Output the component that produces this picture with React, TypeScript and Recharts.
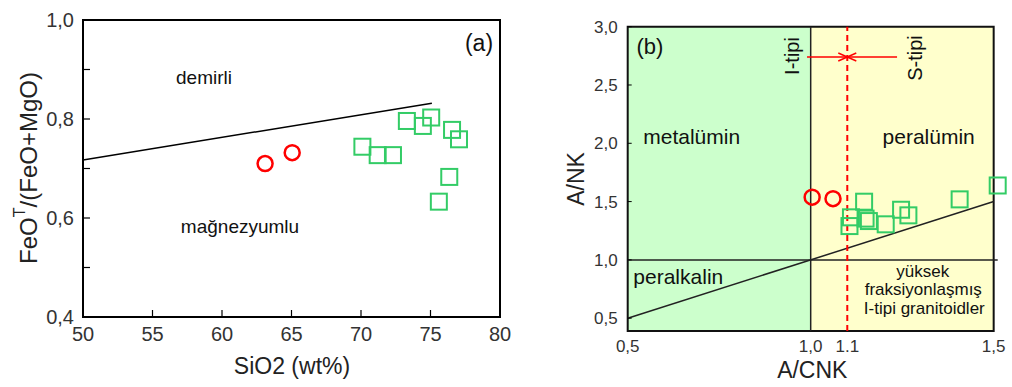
import { ScatterChart, Scatter, XAxis, YAxis, ReferenceLine, ReferenceArea } from 'recharts';

// (a) FeOT/(FeO+MgO) vs SiO2
const aCircles = [
    { x: 63.1, y: 0.71 },
    { x: 65.05, y: 0.732 },
];
const aSquares = [
    { x: 70.1, y: 0.744 },
    { x: 71.2, y: 0.727 },
    { x: 72.3, y: 0.727 },
    { x: 73.3, y: 0.796 },
    { x: 74.45, y: 0.786 },
    { x: 75.05, y: 0.803 },
    { x: 76.55, y: 0.778 },
    { x: 77.05, y: 0.759 },
    { x: 76.35, y: 0.683 },
    { x: 75.6, y: 0.633 },
];
const aBoundary = [
    { x: 50, y: 0.717 },
    { x: 75.1, y: 0.832 },
];
const aXTicks = [50, 55, 60, 65, 70, 75, 80];
const aYTicks = [0.4, 0.5, 0.6, 0.7, 0.8, 0.9, 1.0];
const aYLabelled = [0.4, 0.6, 0.8, 1.0];

// (b) A/NK vs A/CNK
const bCircles = [
    { x: 1.004, y: 1.538 },
    { x: 1.061, y: 1.525 },
];
const bSquares = [
    { x: 1.146, y: 1.499 },
    { x: 1.11, y: 1.365 },
    { x: 1.106, y: 1.29 },
    { x: 1.15, y: 1.354 },
    { x: 1.159, y: 1.333 },
    { x: 1.205, y: 1.305 },
    { x: 1.247, y: 1.43 },
    { x: 1.267, y: 1.382 },
    { x: 1.407, y: 1.519 },
    { x: 1.511, y: 1.638 },
];
const bDiagonal = [
    { x: 0.5, y: 0.5 },
    { x: 1.5, y: 1.5 },
];
const bIS = [
    { x: 0.99, y: 2.74 },
    { x: 1.236, y: 2.74 },
];
const bISMark = [{ x: 1.1, y: 2.74 }];
const bXTicks = [0.5, 1.0, 1.1, 1.5];
const bXTickLabels = ['0,5', '1,0', '1.1', '1,5'];
const bYTicks = [0.5, 1.0, 1.5, 2.0, 2.5, 3.0];

const FONT = '"Liberation Sans", Arial, sans-serif';
const GREEN = '#33cc66';
const RED = '#ff0000';

const comma = (v: number) => v.toFixed(1).replace('.', ',');

const Square = (props: any) => {
    const { cx, cy } = props;
    if (cx == null || cy == null) return null;
    return <rect x={cx - 8} y={cy - 8} width={16} height={16} fill="none" stroke={GREEN} strokeWidth={2} />;
};

const Ring = (props: any) => {
    const { cx, cy } = props;
    if (cx == null || cy == null) return null;
    return <circle cx={cx} cy={cy} r={7.5} fill="none" stroke={RED} strokeWidth={2.5} />;
};

const Cross = (props: any) => {
    const { cx, cy } = props;
    if (cx == null || cy == null) return null;
    return (
        <g stroke={RED} strokeWidth={1.5}>
            <line x1={cx - 9} y1={cy - 4} x2={cx + 9} y2={cy + 4} />
            <line x1={cx - 9} y1={cy + 4} x2={cx + 9} y2={cy - 4} />
        </g>
    );
};

function PanelA() {
    return (
        <ScatterChart width={540} height={387} margin={{ top: 20, right: 40, bottom: 40, left: 23 }}>
            <XAxis
                type="number"
                dataKey="x"
                domain={[50, 80]}
                ticks={aXTicks}
                tickSize={-7}
                tickMargin={17}
                axisLine={false}
                tickLine={{ stroke: '#000', strokeWidth: 1.2 }}
                tick={{ fill: '#333', fontSize: 20, fontFamily: FONT }}
                height={30}
            />
            <YAxis
                type="number"
                dataKey="y"
                domain={[0.4, 1.0]}
                ticks={aYTicks}
                tickFormatter={(v: number) => (aYLabelled.some((t) => Math.abs(t - v) < 1e-6) ? comma(v) : '')}
                tickSize={-7}
                tickMargin={16}
                axisLine={false}
                tickLine={{ stroke: '#000', strokeWidth: 1.2 }}
                tick={{ fill: '#333', fontSize: 20, fontFamily: FONT }}
                width={60}
            />
            <ReferenceArea x1={50} x2={80} y1={0.4} y2={1.0} fill="none" stroke="#000" strokeWidth={2} />
            <ReferenceLine segment={aBoundary} stroke="#000" strokeWidth={1.5} />
            <Scatter data={aCircles} shape={Ring} isAnimationActive={false} />
            <Scatter data={aSquares} shape={Square} isAnimationActive={false} />
            <text x={204} y={77} textAnchor="middle" dominantBaseline="central" fontSize={19} fontFamily={FONT} fill="#111">demirli</text>
            <text x={240} y={226} textAnchor="middle" dominantBaseline="central" fontSize={19} fontFamily={FONT} fill="#111">mağnezyumlu</text>
            <text x={479} y={43} textAnchor="middle" dominantBaseline="central" fontSize={23} fontFamily={FONT} fill="#111">(a)</text>
            <text x={292} y={366} textAnchor="middle" dominantBaseline="central" fontSize={23} fontFamily={FONT} fill="#222">SiO2 (wt%)</text>
            <text
                transform="translate(28,168) rotate(-90)"
                textAnchor="middle"
                dominantBaseline="central"
                fontSize={24}
                fontFamily={FONT}
                fill="#222"
            >
                FeO<tspan dy={-9} fontSize={16}>T</tspan>
                <tspan dy={9}>/(FeO+MgO)</tspan>
            </text>
        </ScatterChart>
    );
}

// region names for panel (b), drawn above the coloured fields
function PanelBText() {
    const t = { textAnchor: 'middle' as const, dominantBaseline: 'central' as const, fontFamily: FONT, fill: '#111' };
    return (
        <svg width={472} height={387} style={{ position: 'absolute', left: 0, top: 0, pointerEvents: 'none' }}>
            <text x={110} y={46.7} fontSize={22} {...t}>(b)</text>
            <text x={151.7} y={136} fontSize={21} {...t}>metalümin</text>
            <text x={388.7} y={136} fontSize={21} {...t}>peralümin</text>
            <text x={138.3} y={276} fontSize={21} {...t}>peralkalin</text>
            <text x={382.7} y={271} fontSize={17} {...t}>yüksek</text>
            <text x={383.3} y={289.5} fontSize={17} {...t}>fraksiyonlaşmış</text>
            <text x={384.3} y={308.5} fontSize={17} {...t}>I-tipi granitoidler</text>
            <text transform="translate(251.7,56) rotate(-90)" fontSize={20} {...t}>I-tipi</text>
            <text transform="translate(375,58) rotate(-90)" fontSize={20} {...t}>S-tipi</text>
        </svg>
    );
}

function PanelB() {
    return (
        <div style={{ position: 'relative', width: 472, height: 387 }}>
            <ScatterChart width={472} height={387} margin={{ top: 26.7, right: 14.3, bottom: 26, left: 37.7 }}>
                <XAxis
                    type="number"
                    dataKey="x"
                    domain={[0.5, () => 1.5]}
                    ticks={bXTicks}
                    tickFormatter={(v: number) => bXTickLabels[bXTicks.indexOf(v)] ?? ''}
                    tickSize={0}
                    tickMargin={9}
                    axisLine={false}
                    tickLine={false}
                    tick={{ fill: '#333', fontSize: 17, fontFamily: FONT }}
                    height={30}
                />
                <YAxis
                    type="number"
                    dataKey="y"
                    domain={[0.39, 3.0]}
                    ticks={bYTicks}
                    tickFormatter={comma}
                    tickSize={-4}
                    tickMargin={14}
                    axisLine={false}
                    tickLine={{ stroke: '#000', strokeWidth: 1 }}
                    tick={{ fill: '#333', fontSize: 17, fontFamily: FONT }}
                    width={50}
                />
                <ReferenceArea x1={0.5} x2={1.0} y1={0.39} y2={3.0} fill="#ccffcc" fillOpacity={1} stroke="none" />
                <ReferenceArea x1={1.0} x2={1.5} y1={0.39} y2={3.0} fill="#ffffcc" fillOpacity={1} stroke="none" />
                <ReferenceLine y={1.0} stroke="#222" strokeWidth={1.5} />
                <ReferenceLine x={1.0} stroke="#222" strokeWidth={1.5} />
                <ReferenceLine segment={bDiagonal} stroke="#222" strokeWidth={1.5} />
                <ReferenceLine x={1.1} stroke={RED} strokeWidth={2} strokeDasharray="6 4" />
                <ReferenceLine segment={bIS} stroke={RED} strokeWidth={1.5} />
                <ReferenceArea x1={0.5} x2={1.5} y1={0.39} y2={3.0} fill="none" stroke="#111" strokeWidth={2} />
                <Scatter data={bISMark} shape={Cross} isAnimationActive={false} />
                <Scatter data={bCircles} shape={Ring} isAnimationActive={false} />
                <Scatter data={bSquares} shape={Square} isAnimationActive={false} />
                <text x={272.3} y={370} textAnchor="middle" dominantBaseline="central" fontSize={23} fontFamily={FONT} fill="#222">A/CNK</text>
                <text transform="translate(36,179) rotate(-90)" textAnchor="middle" dominantBaseline="central" fontSize={23} fontFamily={FONT} fill="#222">A/NK</text>
            </ScatterChart>
            <PanelBText />
        </div>
    );
}

export default function App() {
    return (
        <div style={{ position: 'absolute', left: 0, top: 0, width: 1012, height: 387, background: '#fff' }}>
            <div style={{ position: 'absolute', left: 0, top: 0 }}>
                <PanelA />
            </div>
            <div style={{ position: 'absolute', left: 540, top: 0 }}>
                <PanelB />
            </div>
        </div>
    );
}
